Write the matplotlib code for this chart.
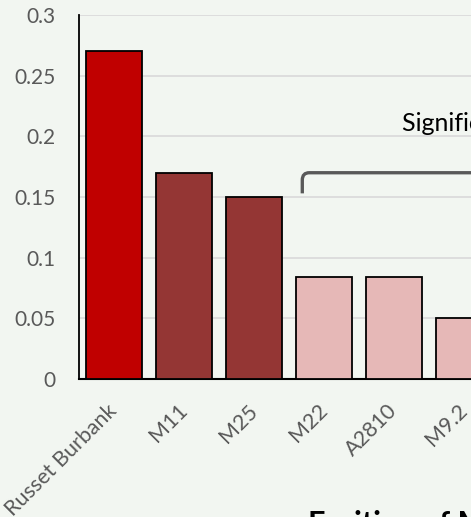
import matplotlib
matplotlib.use("Agg")
import matplotlib.pyplot as plt
from matplotlib.path import Path
from matplotlib.patches import PathPatch
from matplotlib.transforms import ScaledTranslation

# fruiting rate per rootstock / cultivar
varieties = ["Russet Burbank", "M11", "M25", "M22", "A2810", "M9.2"]
rates = [0.27, 0.17, 0.15, 0.084, 0.084, 0.05]
colors = ["#C00000", "#943634", "#943634", "#E6B8B7", "#E6B8B7", "#E6B8B7"]
yticks = [0, 0.05, 0.1, 0.15, 0.2, 0.25, 0.3]
ytick_labels = ["0", "0.05", "0.1", "0.15", "0.2", "0.25", "0.3"]

bg = "#F2F6F1"
plt.rcParams["font.family"] = ["Lato", "DejaVu Sans"]

fig = plt.figure(figsize=(4.71, 5.17), dpi=100, facecolor=bg)
ax = fig.add_axes([79 / 471, 138 / 517, 392 / 471, 364 / 517])
ax.set_facecolor(bg)

x = range(len(varieties))
ax.bar(x, rates, width=0.8, color=colors, edgecolor="black", linewidth=1.3, zorder=3)

ax.set_xlim(-0.5, 5.1)
ax.set_ylim(0, 0.3)
ax.set_yticks(yticks)
ax.set_yticklabels(ytick_labels)
ax.tick_params(axis="y", length=0, pad=17, labelsize=15, labelcolor="#595959")
ax.tick_params(axis="x", length=0, pad=4, labelsize=15.5, labelcolor="#595959")
ax.set_xticks(list(x))
ax.set_xticklabels(varieties, rotation=45, ha="right", va="center",
                   rotation_mode="anchor")
# push the slanted labels down a bit
for lbl in ax.get_xticklabels():
    lbl.set_transform(lbl.get_transform() + ScaledTranslation(0, -23 / 100, fig.dpi_scale_trans))

ax.yaxis.grid(True, color="#D9D9D9", linewidth=1.2, zorder=0)
ax.set_axisbelow(True)
for side in ["top", "right"]:
    ax.spines[side].set_visible(False)
ax.spines["left"].set_color("black")
ax.spines["left"].set_linewidth(1.3)
ax.spines["bottom"].set_color("black")
ax.spines["bottom"].set_linewidth(1.5)

# bracket over the lower group
bx, by, foot = 2.69, 0.17, 0.153
verts = [(bx, foot), (bx, by - 0.006), (bx, by), (bx + 0.1, by), (6.0, by)]
codes = [Path.MOVETO, Path.LINETO, Path.CURVE3, Path.CURVE3, Path.LINETO]
ax.add_patch(PathPatch(Path(verts, codes), facecolor="none", edgecolor="#595959",
                       linewidth=2.4, capstyle="butt", zorder=4, clip_on=False))
ax.text(4.11, 0.204, "Significantly lower", fontsize=18, color="black",
        ha="left", va="baseline")

fig.text(308 / 471, 1 - 510 / 517, "Fruiting of Mutants", fontsize=22,
         fontweight="bold", ha="left", va="top")

fig.savefig("out.png", dpi=100, facecolor=bg)
